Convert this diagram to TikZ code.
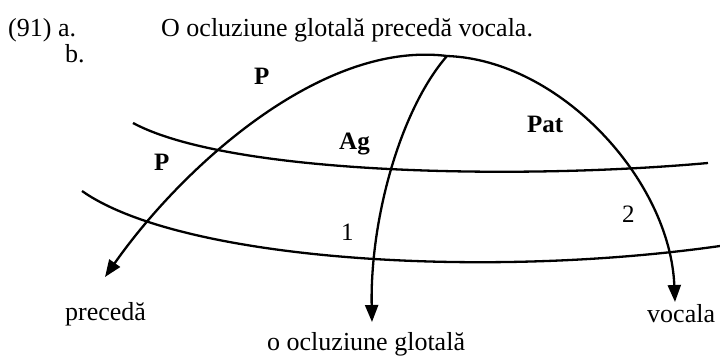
\documentclass[tikz,border=0pt]{standalone}
\usepackage{fontspec}
\setmainfont{Liberation Serif}
\usetikzlibrary{arrows.meta}
\begin{document}
\begin{tikzpicture}[x=1pt,y=-1pt,
  txt/.style={anchor=base west,inner sep=0pt,font=\fontsize{26}{31}\selectfont},
  lbl/.style={txt,font=\fontsize{25}{30}\selectfont\bfseries},
  num/.style={txt,font=\fontsize{25}{30}\selectfont},
  curve/.style={line width=2.3pt},
  arr/.style={curve,-{Triangle[length=17pt,width=13pt]}}]
\useasboundingbox (0,0) rectangle (720,356);
% texts
\node[txt] (ex) at (8,36) {(91) a.};
\node[txt] (sent) at (161,36) {O ocluziune glotală precedă vocala.};
\node[txt] (b) at (65,62) {b.};
\node[lbl] (P1) at (254,84) {P};
\node[lbl] (P2) at (154,170) {P};
\node[lbl] (Ag) at (339,149) {Ag};
\node[lbl] (Pat) at (527,132) {Pat};
\node[num] (n1) at (341,240) {1};
\node[num] (n2) at (622,222) {2};
\node[txt] (w1) at (65,320) {precedă};
\node[txt] (w2) at (267,350) {o ocluziune glotală};
\node[txt] (w3) at (647,322) {vocala};
% coordinates
\coordinate (apex) at (447,56);
\coordinate (tipL) at (105,277);
\coordinate (tipM) at (372,322);
\coordinate (tipR) at (675,302);
\coordinate (u1) at (133,123);
\coordinate (u2) at (708,163);
\coordinate (l1) at (82,191);
\coordinate (l2) at (720,246);
% arcs
\draw[arr] (apex) .. controls (320,40) and (180,170) .. (tipL);
\draw[arr] (apex) .. controls (400,110) and (370,220) .. (tipM);
\draw[arr] (apex) .. controls (560,60) and (670,180) .. (tipR);
% cross lines
\draw[curve] (u1) .. controls (230,175) and (520,180) .. (u2);
\draw[curve] (l1) .. controls (180,260) and (480,280) .. (l2);
\end{tikzpicture}
\end{document}
